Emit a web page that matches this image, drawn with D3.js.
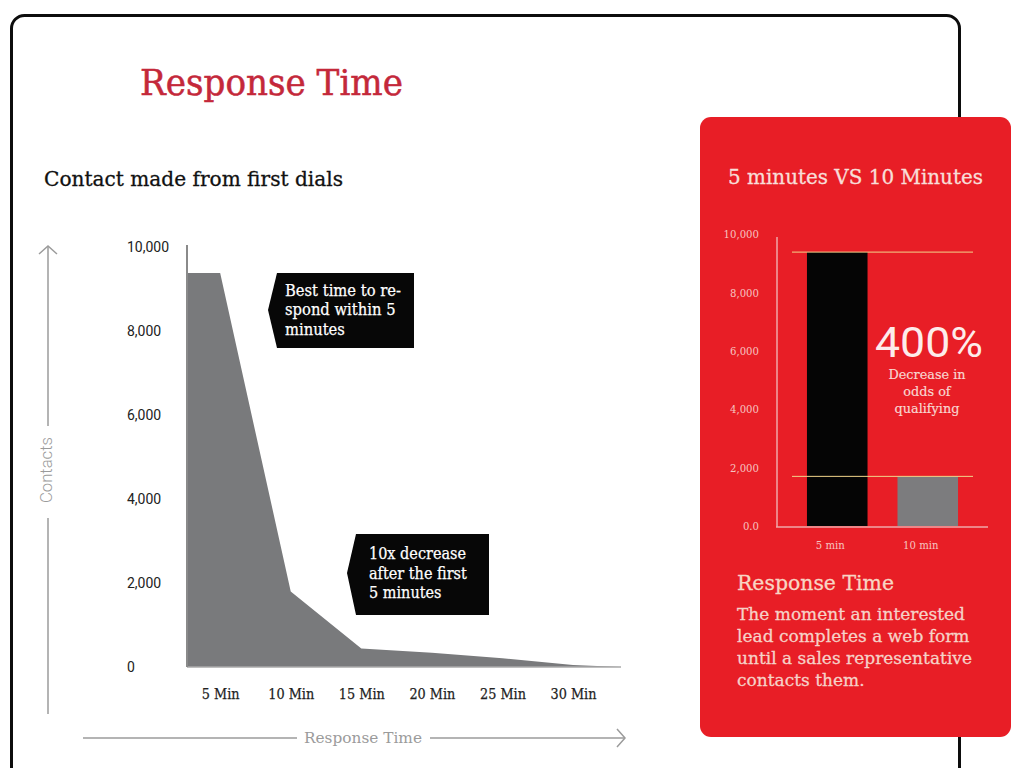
<!DOCTYPE html>
<html><head><meta charset="utf-8">
<script src="https://cdn.jsdelivr.net/npm/d3@7"></script>
<style>html,body{margin:0;padding:0;background:#fff;} svg{display:block;}</style>
</head><body><svg id="c" width="1024" height="768"></svg>
<script>
// ---- data ----
const minutes = [2.65, 5, 10, 15, 20, 25, 30, 33.4];
const contacts = [9380, 9380, 1800, 440, 340, 210, 50, 0];
const xTickValues = [5, 10, 15, 20, 25, 30];
const xTickLabels = ["5 Min", "10 Min", "15 Min", "20 Min", "25 Min", "30 Min"];
const yTickValues = [0, 2000, 4000, 6000, 8000, 10000];
const barCategories = ["5 min", "10 min"];
const barValues = [9380, 1700];
const barYTicks = [0, 2000, 4000, 6000, 8000, 10000];
const callout1Lines = ["Best time to re-", "spond within 5", "minutes"];
const callout2Lines = ["10x decrease", "after the first", "5 minutes"];
const descLines = ["Decrease in", "odds of", "qualifying"];
const definitionLines = ["The moment an interested", "lead completes a web form", "until a sales representative", "contacts them."];

const SERIF = "'DejaVu Serif', 'Liberation Serif', serif";
const SANS = "Roboto, 'Noto Sans', sans-serif";
const svg = d3.select("#c");
function fit(t, w) { t.attr("textLength", w).attr("lengthAdjust", "spacingAndGlyphs"); return t; }
function squeeze(sel, k) {
  sel.each(function () {
    const L = this.getComputedTextLength();
    d3.select(this).attr("textLength", L * k).attr("lengthAdjust", "spacingAndGlyphs");
  });
}
// scale every tspan/text of sel so that the first one gets target width w
function squeezeTo(sel, w) {
  const k = w / sel.node().getComputedTextLength();
  squeeze(sel, k);
}
function heavy(t, c, w) { return t.attr("stroke", c).attr("stroke-width", w || 0.35); }

// ---- card ----
svg.append("rect").attr("x", 11.5).attr("y", 15.5).attr("width", 948).attr("height", 820)
  .attr("rx", 13).attr("fill", "#fff").attr("stroke", "#0d0d0d").attr("stroke-width", 3);

heavy(fit(svg.append("text").attr("x", 140).attr("y", 95).attr("font-family", SERIF).attr("font-size", 35)
  .attr("fill", "#c4283a").text("Response Time"), 263), "#c4283a", 0.5);
heavy(fit(svg.append("text").attr("x", 44).attr("y", 186).attr("font-family", SERIF).attr("font-size", 20)
  .attr("fill", "#111").text("Contact made from first dials"), 299), "#111", 0.3);

// ---- left area chart ----
const x = d3.scaleLinear().domain([minutes[0], minutes[minutes.length - 1]]).range([187, 621]);
const y = d3.scaleLinear().domain([0, 10000]).range([667, 247]);

const area = d3.area().x((d, i) => x(minutes[i])).y0(y(0)).y1(d => y(d));
svg.append("path").datum(contacts).attr("d", area).attr("fill", "#797a7c");

svg.append("line").attr("x1", x.range()[0]).attr("x2", x.range()[1]).attr("y1", y(0)).attr("y2", y(0))
  .attr("stroke", "#aaa").attr("stroke-width", 1.5);
svg.append("line").attr("x1", x.range()[0]).attr("x2", x.range()[0]).attr("y1", y(10000) - 2).attr("y2", y(0))
  .attr("stroke", "#8a8a8a").attr("stroke-width", 2);

const yAx = svg.append("g").attr("transform", "translate(127,0)")
  .call(d3.axisRight(y).tickValues(yTickValues).tickSize(0).tickPadding(0).tickFormat(d3.format(",")));
yAx.select(".domain").remove();
yAx.selectAll("text").attr("font-family", SANS).attr("font-size", 14).attr("fill", "#222");

const xAx = svg.append("g").attr("transform", `translate(0,${y(0)})`)
  .call(d3.axisBottom(x).tickValues(xTickValues).tickSize(0).tickPadding(22)
    .tickFormat((d, i) => xTickLabels[i]));
xAx.select(".domain").remove();
xAx.selectAll("text").attr("font-family", SERIF).attr("font-size", 14.5).attr("fill", "#222")
  .attr("stroke", "#222").attr("stroke-width", 0.25);
squeezeTo(xAx.selectAll("text").filter((d, i) => i === 1), 46);
squeeze(xAx.selectAll("text").filter((d, i) => i !== 1), 46 / 52 );

// axis title arrows
const gray = "#9b9b9b";
svg.append("line").attr("x1", 48).attr("x2", 48).attr("y1", 246).attr("y2", 426).attr("stroke", gray).attr("stroke-width", 1.5);
svg.append("line").attr("x1", 48).attr("x2", 48).attr("y1", 518).attr("y2", 714).attr("stroke", gray).attr("stroke-width", 1.5);
svg.append("path").attr("d", "M39,254 L48,246 L57,254").attr("fill", "none").attr("stroke", gray).attr("stroke-width", 1.5);
fit(svg.append("text").attr("transform", "translate(52,470) rotate(-90)").attr("text-anchor", "middle")
  .attr("font-family", SANS).attr("font-weight", 300).attr("font-size", 16).attr("fill", gray).text("Contacts"), 66);

svg.append("line").attr("x1", 83).attr("x2", 297).attr("y1", 738).attr("y2", 738).attr("stroke", gray).attr("stroke-width", 1.5);
svg.append("line").attr("x1", 430).attr("x2", 624).attr("y1", 738).attr("y2", 738).attr("stroke", gray).attr("stroke-width", 1.5);
svg.append("path").attr("d", "M617,729 L625,738 L617,747").attr("fill", "none").attr("stroke", gray).attr("stroke-width", 1.5);
fit(svg.append("text").attr("x", 363).attr("y", 743).attr("text-anchor", "middle")
  .attr("font-family", SERIF).attr("font-size", 15).attr("fill", gray).text("Response Time"), 118);

// callouts
function callout(left, tip, top, bottom, right, tipY, lines, tx, ty0, lh, w0) {
  svg.append("path").attr("d", `M${left},${top} L${right},${top} L${right},${bottom} L${left},${bottom} L${tip},${tipY} Z`)
    .attr("fill", "#070707");
  const t = svg.append("text").attr("font-family", SERIF).attr("font-size", 16).attr("fill", "#fff")
    .attr("stroke", "#fff").attr("stroke-width", 0.25);
  lines.forEach((l, i) => t.append("tspan").attr("x", tx).attr("y", ty0 + i * lh).text(l));
  squeezeTo(t.selectAll("tspan"), w0);
}
callout(277, 268, 273, 348, 414, 310, callout1Lines, 285, 296, 19.3, 116);
callout(356, 347, 534, 615, 489, 573, callout2Lines, 369, 559, 19.5, 97);

// ---- right panel ----
svg.append("rect").attr("x", 700).attr("y", 117).attr("width", 311).attr("height", 620).attr("rx", 11).attr("fill", "#e81e26");
const pale = "#f8ded8";
heavy(fit(svg.append("text").attr("x", 728).attr("y", 184).attr("font-family", SERIF).attr("font-size", 19.5)
  .attr("fill", pale).text("5 minutes VS 10 Minutes"), 255), pale, 0.3);

const xR = d3.scaleBand().domain(barCategories).range([777, 988]).padding(0.331);
const yR = d3.scaleLinear().domain([0, 10000]).range([526, 234]);

const yRAx = svg.append("g").attr("transform", "translate(759,0)")
  .call(d3.axisLeft(yR).tickValues(barYTicks).tickSize(0).tickPadding(0)
    .tickFormat(d => d === 0 ? "0.0" : d3.format(",")(d)));
yRAx.select(".domain").remove();
yRAx.selectAll("text").attr("font-family", SERIF).attr("font-size", 11.5).attr("fill", "#f6c4c0");
squeeze(yRAx.selectAll("text"), 0.88);

svg.append("g").selectAll("rect").data(barValues).join("rect")
  .attr("x", (d, i) => xR(barCategories[i])).attr("width", xR.bandwidth())
  .attr("y", d => yR(d)).attr("height", d => yR(0) - yR(d))
  .attr("fill", (d, i) => i === 0 ? "#050505" : "#7c7c7e");

svg.append("line").attr("x1", 777).attr("x2", 777).attr("y1", yR(10000) + 3).attr("y2", yR(0) + 1)
  .attr("stroke", "#f0a8a8").attr("stroke-width", 1.5);
svg.append("line").attr("x1", 776).attr("x2", 988).attr("y1", yR(0) + 1).attr("y2", yR(0) + 1)
  .attr("stroke", "#f0a8a8").attr("stroke-width", 1.5);

svg.append("g").selectAll("line").data(barValues).join("line")
  .attr("x1", 792).attr("x2", 973).attr("y1", d => yR(d)).attr("y2", d => yR(d))
  .attr("stroke", "#f2d48a").attr("stroke-width", 1);

const xRAx = svg.append("g").attr("transform", `translate(-7,${yR(0) + 1})`)
  .call(d3.axisBottom(xR).tickSize(0).tickPadding(14));
xRAx.select(".domain").remove();
xRAx.selectAll("text").attr("font-family", SERIF).attr("font-size", 11.5).attr("fill", "#f6c4c0");
squeeze(xRAx.selectAll("text"), 0.88);

fit(svg.append("text").attr("x", 929).attr("y", 357).attr("text-anchor", "middle").attr("font-family", SANS)
  .attr("font-weight", 400).attr("font-size", 43).attr("fill", "#fdeceb").text("400%"), 108);
const dt = svg.append("text").attr("font-family", SERIF).attr("font-size", 13.5).attr("fill", "#f8d6d0")
  .attr("text-anchor", "middle").attr("stroke", "#f8d6d0").attr("stroke-width", 0.2);
descLines.forEach((l, i) => dt.append("tspan").attr("x", 927).attr("y", 379 + i * 17).text(l));
squeezeTo(dt.selectAll("tspan"), 77);

heavy(fit(svg.append("text").attr("x", 737).attr("y", 590).attr("font-family", SERIF).attr("font-size", 21)
  .attr("fill", "#f8d5c4").text("Response Time"), 157), "#f8d5c4", 0.3);
const pt = svg.append("text").attr("font-family", SERIF).attr("font-size", 17.5).attr("fill", "#f6d2c8")
  .attr("stroke", "#f6d2c8").attr("stroke-width", 0.3);
definitionLines.forEach((l, i) => pt.append("tspan").attr("x", 737).attr("y", 620 + i * 22).text(l));
squeezeTo(pt.selectAll("tspan"), 228);
</script></body></html>
